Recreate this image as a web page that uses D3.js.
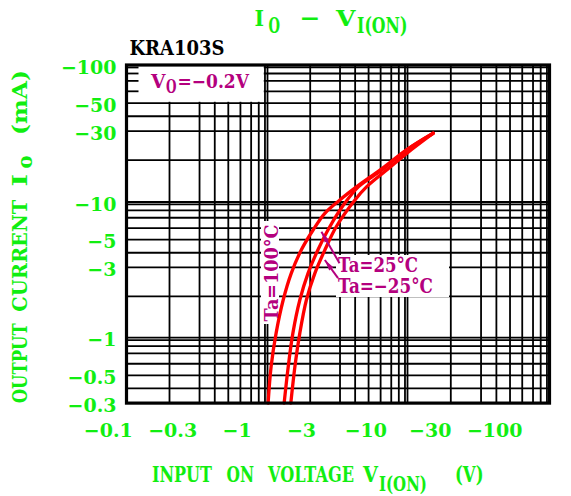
<!DOCTYPE html>
<html><head><meta charset="utf-8">
<script src="https://cdn.jsdelivr.net/npm/d3@7"></script>
<style>html,body{margin:0;padding:0;background:#fff;} svg{display:block;}</style>
</head><body>
<svg id="c" width="571" height="496"></svg>
<script>
// ---------------- data ----------------
const xTickValues = [0.1, 0.3, 1, 3, 10, 30, 100];
const xTickLabels = ["−0.1", "−0.3", "−1", "−3", "−10", "−30", "−100"];
const yTickValues = [100, 50, 30, 10, 5, 3, 1, 0.5, 0.3];
const yTickLabels = ["−100", "−50", "−30", "−10", "−5", "−3", "−1", "−0.5", "−0.3"];
const seriesNames = ["Ta=100°C", "Ta=25°C", "Ta=−25°C"];
// |input on voltage| (V) and |output current| (mA)
const vin100 = [1.01, 1.06, 1.15, 1.29, 1.47, 1.73, 2.08, 2.44, 2.98, 4.11, 5.94, 9.67, 15.1];
const io100  = [0.3, 0.573, 1.08, 1.88, 2.76, 4.19, 5.82, 7.59, 10.3, 12.9, 17.0, 23.1, 29.1];
const vin25  = [1.31, 1.40, 1.51, 1.69, 1.93, 2.22, 2.61, 3.28, 4.24, 6.12, 9.67, 15.1];
const io25   = [0.3, 0.573, 1.08, 1.88, 2.76, 4.19, 6.12, 9.45, 12.9, 17.0, 23.1, 29.1];
const vinM25 = [1.46, 1.56, 1.69, 1.88, 2.13, 2.44, 2.85, 3.97, 4.85, 6.55, 9.67, 15.1];
const ioM25  = [0.3, 0.573, 1.08, 1.88, 2.76, 4.19, 6.12, 10.3, 12.9, 17.0, 22.0, 29.1];
// leader lines (data units): [V, I] near the curve -> near the label
const leader25  = [[2.33, 5.67], [2.98, 3.25]];
const leaderM25 = [[2.44, 3.47], [2.92, 2.58]];

// ---------------- scales (this chart's log paper) ----------------
const GREEN = "#11ee11", MAG = "#b4007e", FONT = "'DejaVu Serif', serif";
const paperFrac = [0, 0.305, 0.518, 0.626, 0.722, 0.808, 0.884, 0.938, 0.982, 1];
function paperScale(decV, decP, lo, hi) {
  const dom = [], rng = [];
  for (let i = 0; i < decV.length - 1; i++) {
    for (let k = 1; k <= 9; k++) {
      const v = +(decV[i] * k).toPrecision(3);
      if (v >= lo && v <= hi) { dom.push(v); rng.push(decP[i] + paperFrac[k - 1] * (decP[i + 1] - decP[i])); }
    }
  }
  dom.push(hi); rng.push(decP[decP.length - 1]);
  return d3.scaleLog().domain(dom).range(rng);
}
const x = paperScale([0.1, 1, 10, 100], [126.5, 267.5, 407.5, 549.5], 0.1, 100);
const y = paperScale([0.1, 1, 10, 100], [473.4, 337.7, 202, 65], 0.3, 100);
const xLab = d3.scalePoint().domain(xTickLabels).range([108.3, 494.7]);

const svg = d3.select("#c");
const xGrid = x.domain().slice(1, -1), yGrid = y.domain().slice(1, -1);

const grid = svg.append("g").attr("stroke", "#000").attr("stroke-width", 1.8);
grid.selectAll("line.v").data(xGrid).join("line").attr("class", "v")
  .attr("x1", d => x(d)).attr("x2", d => x(d)).attr("y1", y(100)).attr("y2", y(0.3));
grid.selectAll("line.h").data(yGrid).join("line").attr("class", "h")
  .attr("y1", d => y(d)).attr("y2", d => y(d)).attr("x1", x(0.1)).attr("x2", x(100));

// white label boxes
svg.append("rect").attr("x", x(0.1)).attr("y", y(100)).attr("width", x(0.88) - x(0.1)).attr("height", y(51) - y(100)).attr("fill", "#fff");
svg.append("rect").attr("x", 261).attr("y", 221).attr("width", 18).attr("height", 103).attr("fill", "#fff");
svg.append("rect").attr("x", 336).attr("y", 255).attr("width", 113).attr("height", 42).attr("fill", "#fff");
// short ticks inside the V0 box
svg.append("g").attr("stroke", "#000").attr("stroke-width", 1.8)
  .selectAll("line").data([90, 80, 70, 60]).join("line")
  .attr("x1", x(0.1)).attr("x2", x(0.1) + 12).attr("y1", d => y(d)).attr("y2", d => y(d));

// curves
const line = d3.line().x(d => x(d[0])).y(d => y(d[1])).curve(d3.curveCatmullRom.alpha(0.5));
const series = [d3.zip(vin100, io100), d3.zip(vin25, io25), d3.zip(vinM25, ioM25)];
svg.append("g").selectAll("path").data(series).join("path")
  .attr("d", line).attr("fill", "none").attr("stroke", "#ff0000").attr("stroke-width", 3.3)
  .attr("stroke-linecap", "round").attr("stroke-linejoin", "round");

// frame
svg.append("rect").attr("x", x(0.1)).attr("y", y(100)).attr("width", x(100) - x(0.1)).attr("height", y(0.3) - y(100))
  .attr("fill", "none").attr("stroke", "#000").attr("stroke-width", 3.2);

// leaders
[leader25, leaderM25].forEach(L => {
  const [x0, y0] = [x(L[0][0]), y(L[0][1])], [x1, y1] = [x(L[1][0]), y(L[1][1])];
  svg.append("line").attr("x1", x0).attr("y1", y0).attr("x2", x1).attr("y2", y1)
    .attr("stroke", MAG).attr("stroke-width", 2);
  const len = Math.hypot(x1 - x0, y1 - y0), ux = (x1 - x0) / len, uy = (y1 - y0) / len;
  const bx = x0 + ux * 11, by = y0 + uy * 11, px = -uy * 2.6, py = ux * 2.6;
  svg.append("path").attr("d", `M${x0},${y0}L${bx + px},${by + py}L${bx - px},${by - py}Z`).attr("fill", MAG);
});

// text helper: natural glyphs, squeezed horizontally to the reference width
function txt(str, xx, yy, size, color, len, opts = {}) {
  const t = svg.append("text").attr("x", 0).attr("y", 0).text(str)
    .attr("font-family", FONT).attr("font-weight", "bold").attr("font-size", size).attr("fill", color)
    .attr("text-anchor", opts.anchor || "start");
  let sx = 1;
  if (len) { const w = t.node().getComputedTextLength(); if (w > 0) sx = len / w; }
  t.attr("transform", `translate(${xx},${yy})${opts.rot ? " rotate(-90)" : ""} scale(${sx},1)`);
  return t;
}

// title
txt("I", 254.5, 26, 23, GREEN, 9.5);
txt("O", 268.5, 33.3, 23, GREEN, 11.5);
txt("−", 299.3, 26, 23, GREEN, 21);
txt("V", 336, 26, 23, GREEN, 19.5);
txt("I(ON)", 357, 33.3, 22, GREEN, 50.5);

// device name and condition
txt("KRA103S", 129.5, 55, 20, "#000", 95);
txt("V", 151, 88, 18.5, MAG, 14.5);
txt("O", 166, 92.5, 18, MAG, 10.5);
txt("=−0.2V", 177.5, 88, 18.5, MAG, 71.5);

// tick labels
svg.append("g").selectAll("text").data(xTickLabels).join("text")
  .attr("x", d => xLab(d)).attr("y", 436.5).text(d => d)
  .attr("text-anchor", "middle").attr("font-family", FONT).attr("font-weight", "bold")
  .attr("font-size", 19).attr("fill", GREEN);
svg.append("g").selectAll("text").data(yTickValues).join("text")
  .attr("x", 116.5).attr("y", d => y(d) + 8.5).text((d, i) => yTickLabels[i])
  .attr("text-anchor", "end").attr("font-family", FONT).attr("font-weight", "bold")
  .attr("font-size", 19).attr("fill", GREEN);

// x axis title
txt("INPUT", 152, 482, 23, GREEN, 60);
txt("ON", 226.5, 482, 23, GREEN, 27.5);
txt("VOLTAGE", 268, 482, 23, GREEN, 86);
txt("V", 363, 482, 23, GREEN, 15);
txt("I(ON)", 379, 490.5, 19.5, GREEN, 48);
txt("(V)", 455, 482, 23, GREEN, 28.5);

// y axis title (rotated)
txt("OUTPUT", 27.3, 403.3, 20, GREEN, 80, { rot: true });
txt("CURRENT", 27.3, 311.7, 20, GREEN, 112, { rot: true });
txt("I", 27.3, 186.5, 20, GREEN, 12.5, { rot: true });
txt("o", 31.7, 168.5, 20, GREEN, 13, { rot: true });
txt("(mA)", 27.3, 135, 20, GREEN, 65, { rot: true });

// curve labels
txt(seriesNames[0], 277.5, 321.5, 19, MAG, 97, { rot: true });
txt(seriesNames[1], 338, 271.7, 20, MAG, 80);
txt(seriesNames[2], 338, 293.3, 20, MAG, 95);
</script>
</body></html>
